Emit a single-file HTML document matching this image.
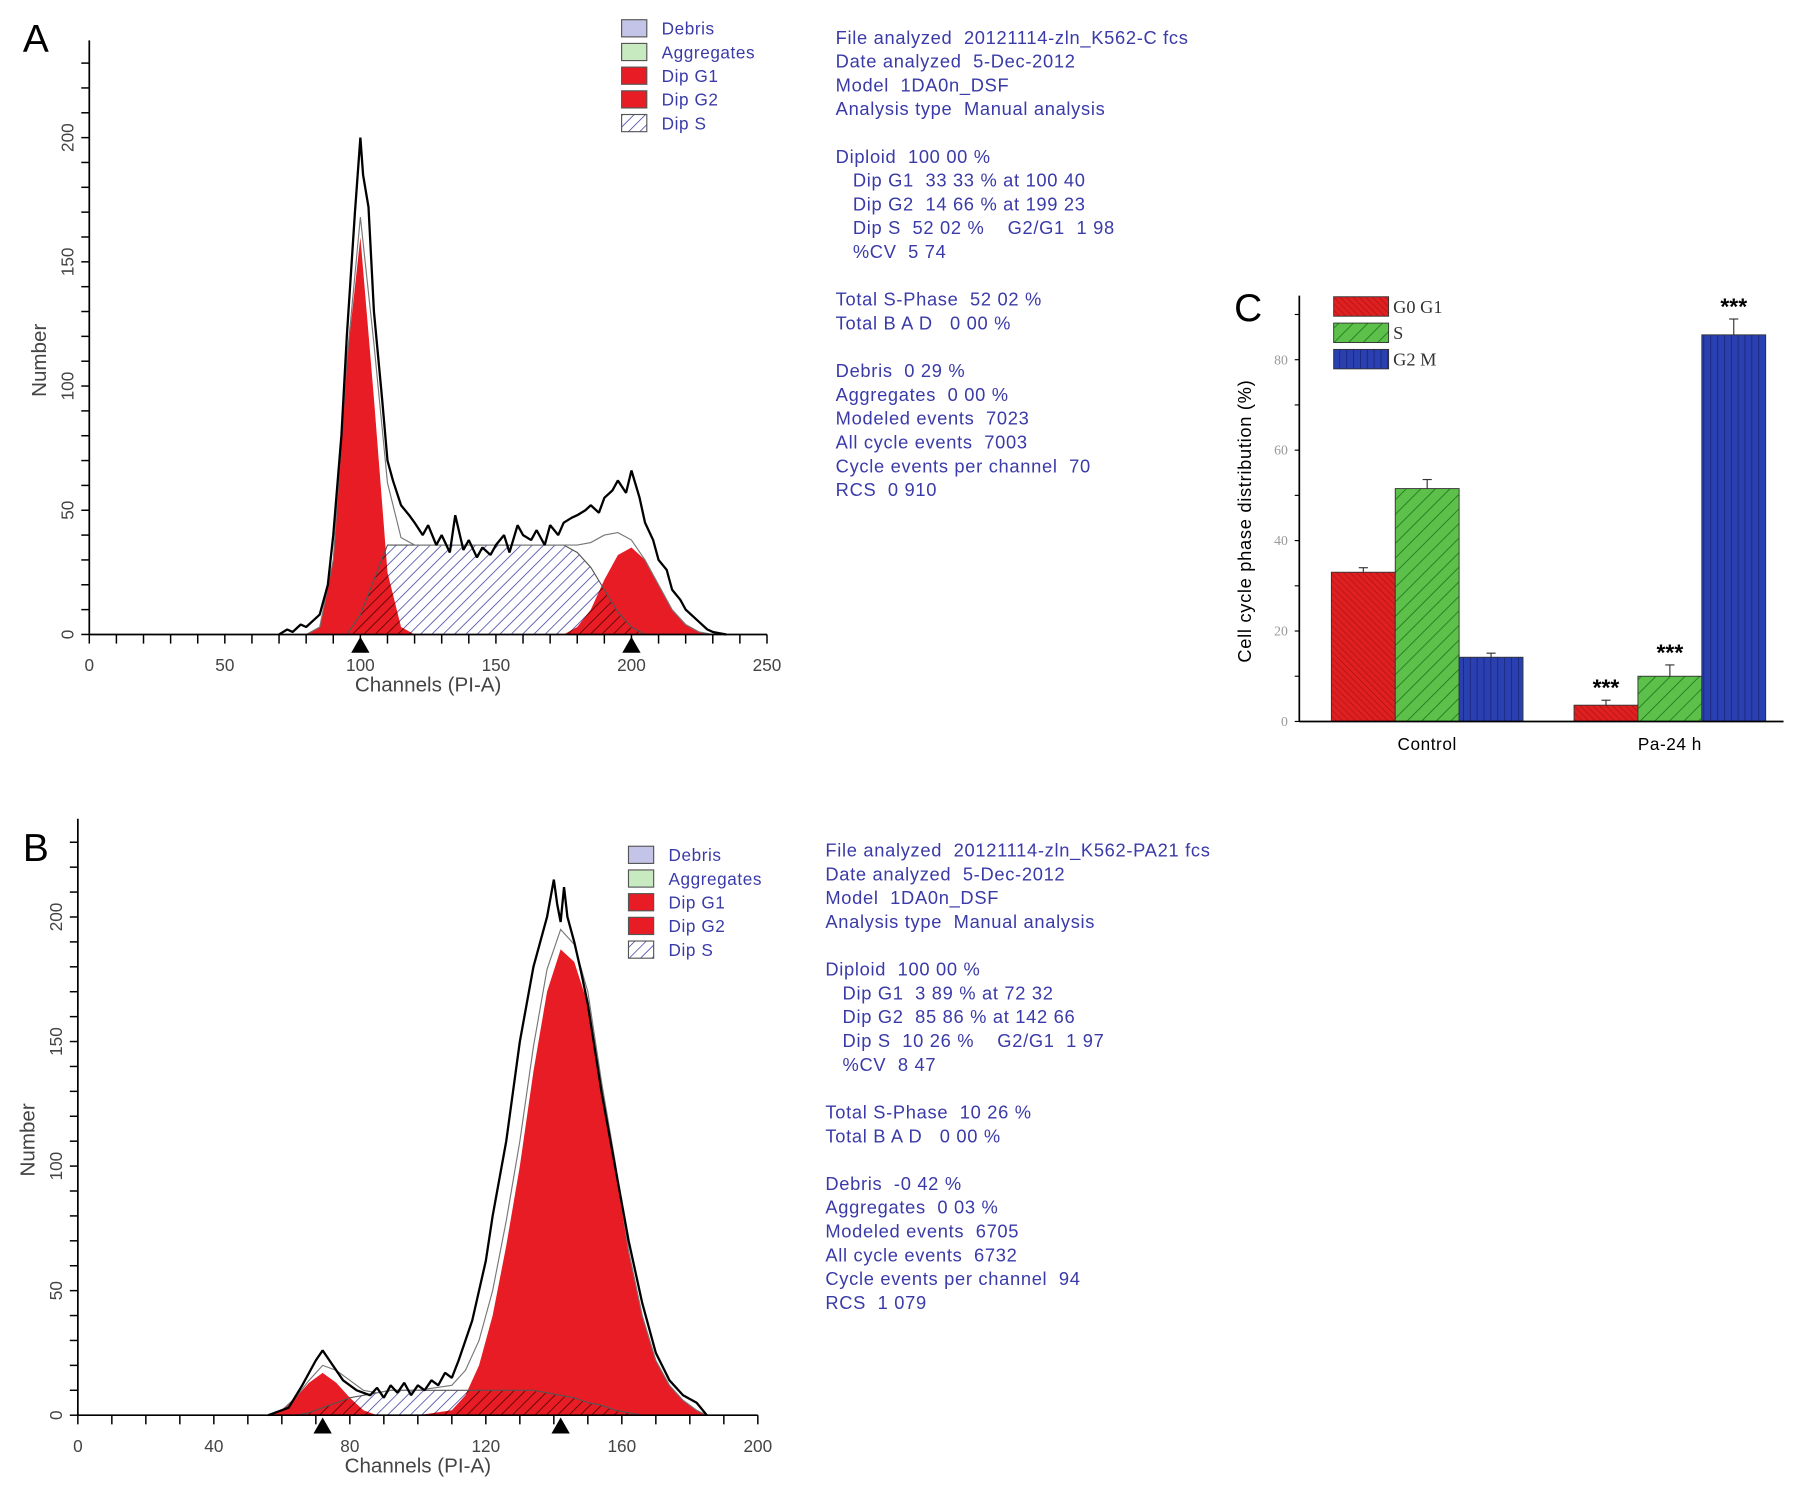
<!DOCTYPE html>
<html><head><meta charset="utf-8">
<style>
html,body{margin:0;padding:0;background:#fff;}
svg{display:block;}
.info{font-family:"Liberation Sans",sans-serif;font-size:16px;fill:#3a3aa8;white-space:pre;letter-spacing:0.6px;}
.leg{font-family:"Liberation Sans",sans-serif;font-size:15px;fill:#3a3aa8;letter-spacing:0.5px;}
.tick{font-family:"Liberation Sans",sans-serif;font-size:15px;fill:#444;}
.ttl{font-family:"Liberation Sans",sans-serif;font-size:18px;fill:#444;}
</style></head>
<body>
<svg id="fig" width="1795" height="1491" viewBox="0 0 1568 1302" xmlns="http://www.w3.org/2000/svg">
<defs>
<pattern id="hatchBlue" width="7" height="7" patternUnits="userSpaceOnUse" patternTransform="rotate(45)"><rect width="7" height="7" fill="#fff"/><line x1="0" y1="0" x2="0" y2="7" stroke="#3a3aa0" stroke-width="1.3"/></pattern>
<pattern id="hatchDark" width="7" height="7" patternUnits="userSpaceOnUse" patternTransform="rotate(45)"><line x1="0" y1="0" x2="0" y2="7" stroke="#400" stroke-width="1.3"/></pattern>
<pattern id="cRed" width="4" height="4" patternUnits="userSpaceOnUse" patternTransform="rotate(-45)"><rect width="4" height="4" fill="#e02020"/><line x1="0" y1="0" x2="0" y2="4" stroke="#a01010" stroke-width="1"/></pattern>
<pattern id="cGreen" width="9" height="9" patternUnits="userSpaceOnUse" patternTransform="rotate(45)"><rect width="9" height="9" fill="#5cc04a"/><line x1="0" y1="0" x2="0" y2="9" stroke="#1e7a1e" stroke-width="1.5"/></pattern>
<pattern id="cBlue" width="6" height="6" patternUnits="userSpaceOnUse"><rect width="6" height="6" fill="#2a40b0"/><line x1="0" y1="0" x2="0" y2="6" stroke="#142070" stroke-width="1.2"/></pattern>
</defs>
</svg>
<script>
// ---- Panel A data ----
const chanA = [70,73,75,78,80,83,85,88,90,93,95,98,100,101,103,105,108,110,112,115,118,120,123,125,128,130,133,135,138,140,143,145,148,150,153,155,158,160,163,165,168,170,173,175,178,180,183,185,188,190,193,195,198,200,203,205,208,210,213,215,218,220,223,225,228,230,235];
const rawA  = [0,2,1,4,3,6,8,20,40,80,120,170,200,185,172,130,95,70,62,52,48,45,40,44,36,40,33,48,34,38,31,35,32,36,40,33,44,40,38,42,36,44,40,45,47,48,50,52,49,55,58,62,57,66,55,45,38,30,26,18,14,10,7,5,2,1,0];
const compChanA = [80,85,90,95,100,105,110,115,120,130,140,150,160,170,175,180,185,190,195,200,205,210,215,220,225,230,235];
const g1A = [0,3,30,110,160,95,25,3,0,0,0,0,0,0,0,0,0,0,0,0,0,0,0,0,0,0,0];
const sA  = [0,0,0,0,8,22,36,36,36,36,36,36,36,36,36,33,27,18,9,3,0,0,0,0,0,0,0];
const g2A = [0,0,0,0,0,0,0,0,0,0,0,0,0,0,0,3,10,22,32,35,30,20,10,4,1,0,0];
const peaksA = [100,200];
// ---- Panel B data ----
const chanB = [56,58,62,66,70,72,75,78,82,86,88,90,92,94,96,98,100,102,104,106,108,110,112,114,116,118,120,122,124,126,128,130,132,134,136,138,140,141,142,143,144,146,148,150,154,158,162,166,170,174,178,182,185];
const rawB  = [0,1,3,12,22,26,20,14,10,8,11,7,12,9,13,8,12,10,14,12,17,15,22,30,38,50,62,80,95,110,130,150,165,180,190,200,215,205,198,212,200,190,178,165,130,100,70,45,25,14,8,5,0];
const compChanB = [56,60,64,68,72,76,80,84,88,92,100,110,114,118,122,126,130,134,138,142,146,150,154,158,162,166,170,174,178,182,185];
const g1B = [0,2,7,13,17,13,7,2,0,0,0,0,0,0,0,0,0,0,0,0,0,0,0,0,0,0,0,0,0,0,0];
const sB  = [0,0,0,1,3,5,7,8,9,10,10,10,10,10,10,10,10,10,9,8,7,5,4,2,1,0,0,0,0,0,0];
const g2B = [0,0,0,0,0,0,0,0,0,0,0,2,8,20,40,68,100,138,170,187,182,165,130,100,65,40,22,12,6,2,0];
const peaksB = [72,142];
// ---- Panel C data ----
const groupsC = ["Control","Pa-24 h"];
const seriesNamesC = ["G0 G1","S","G2 M"];
const valsG1 = [33,3.6];
const valsS  = [51.5,10];
const valsG2 = [14.2,85.5];
const errG1 = [1,1.1];
const errS  = [2,2.5];
const errG2 = [0.9,3.5];
const sigC = ["","***"];
const yTicksC = [0,20,40,60,80];

const svg = document.getElementById('fig');
const NS = 'http://www.w3.org/2000/svg';
function mk(tag, attrs, parent){
  const e = document.createElementNS(NS, tag);
  for (const k in attrs) e.setAttribute(k, attrs[k]);
  (parent||svg).appendChild(e);
  return e;
}
function txt(x,y,s,cls,extra,parent){
  const t = mk('text', Object.assign({x:x,y:y,class:cls}, extra||{}), parent);
  t.textContent = s; return t;
}
let clipN = 0;
function histPanel(cfg){
  const g = mk('g', {});
  
  
  const X = c => cfg.x0 + c*cfg.kx, Y = v => cfg.y0 - v*cfg.ky;
  function areaD(ch, vals){
    let d = 'M'+X(ch[0])+','+Y(0);
    ch.forEach((c,i)=>{ d += ' L'+X(c)+','+Y(vals[i]); });
    d += ' L'+X(ch[ch.length-1])+','+Y(0);
    return d+'Z';
  }
  function area(ch, vals, fill, name, parent){
    const p = mk('path', {d:areaD(ch,vals), fill:fill, stroke:'none'}, parent||g);
    
    
    return p;
  }
  area(cfg.cc, cfg.s, 'url(#hatchBlue)', 's-phase-area');
  area(cfg.cc, cfg.g1, '#e81c24', 'g1-peak-area');
  area(cfg.cc, cfg.g2, '#e81c24', 'g2-peak-area');
  // clip for overlap
  const cid = 'clipRed'+(clipN++);
  const cp = mk('clipPath',{id:cid},svg.querySelector('defs'));
  mk('path',{d:areaD(cfg.cc,cfg.g1)},cp);
  mk('path',{d:areaD(cfg.cc,cfg.g2)},cp);
  const ov = mk('g',{'clip-path':'url(#'+cid+')'},g);
  area(cfg.cc, cfg.s, 'url(#hatchDark)', 's-phase-overlap', ov);
  let ds=''; cfg.cc.forEach((c,i)=>{ ds += (i?' L':'M')+X(c)+','+Y(cfg.s[i]); });
  mk('path',{d:ds,fill:'none',stroke:'#555','stroke-width':1},g);
  let df=''; cfg.cc.forEach((c,i)=>{ df += (i?' L':'M')+X(c)+','+Y(cfg.g1[i]+cfg.g2[i]+cfg.s[i]); });
  const fl = mk('path',{d:df,fill:'none',stroke:'#777','stroke-width':1},g);
  
  
  let dr=''; cfg.ch.forEach((c,i)=>{ dr += (i?' L':'M')+X(c)+','+Y(cfg.raw[i]); });
  const rl = mk('path',{d:dr,fill:'none',stroke:'#000','stroke-width':2,'stroke-linejoin':'bevel'},g);
  
  
  mk('line',{x1:cfg.x0,y1:cfg.yTop,x2:cfg.x0,y2:cfg.y0,stroke:'#000','stroke-width':1.5},g);
  mk('line',{x1:cfg.x0,y1:cfg.y0,x2:X(cfg.xMax),y2:cfg.y0,stroke:'#000','stroke-width':1.5},g);
  for (let c=0;c<=cfg.xMax;c+=10){
    mk('line',{x1:X(c),y1:cfg.y0,x2:X(c),y2:cfg.y0+8,stroke:'#000','stroke-width':1.3},g);
  }
  cfg.xLabels.forEach(c=>{ txt(X(c),cfg.y0+32,String(c),'tick',{'text-anchor':'middle'},g); });
  for (let v=0; Y(v)>=cfg.yTop; v+=10){
    mk('line',{x1:cfg.x0-7,y1:Y(v),x2:cfg.x0,y2:Y(v),stroke:'#000','stroke-width':1.3},g);
  }
  [0,50,100,150,200].forEach(v=>{
    txt(cfg.x0-14,Y(v),String(v),'tick',{'text-anchor':'middle',transform:'rotate(-90 '+(cfg.x0-14)+' '+Y(v)+')'},g);
  });
  cfg.peaks.forEach(c=>{
    const m = mk('path',{d:'M'+X(c)+','+(cfg.y0+2)+' L'+(X(c)-8)+','+(cfg.y0+16)+' L'+(X(c)+8)+','+(cfg.y0+16)+'Z',fill:'#000'},g);
    
    
  });
  const xt = txt((cfg.x0+X(cfg.xMax))/2, cfg.y0+50, 'Channels (PI-A)', 'ttl', {'text-anchor':'middle'}, g);
  
  
  const yt = txt(cfg.x0-38, (cfg.y0+cfg.yTop)/2+20, 'Number', 'ttl', {'text-anchor':'middle',transform:'rotate(-90 '+(cfg.x0-38)+' '+((cfg.y0+cfg.yTop)/2+20)+')'}, g);
  
  
  const pl = txt(20, cfg.labelY, cfg.label, 'ttl', {style:'font-size:34px;fill:#000'}, g);
  
  
  const lg = mk('g',{},g);
  
  
  const names=['Debris','Aggregates','Dip G1','Dip G2','Dip S'];
  const fills=['#c4c4e8','#c8eac0','#e81c24','#e81c24','url(#hatchBlue)'];
  names.forEach((n,i)=>{
    const y = cfg.legY + i*20.7;
    const r = mk('rect',{x:cfg.legX,y:y,width:22,height:15,fill:fills[i],stroke:'#555','stroke-width':1},lg);
    
    
    const t = txt(cfg.legX+35,y+13,n,'leg',{},lg);
    
    
  });
  const ig = mk('g',{},g);
  
  
  cfg.info.forEach((s,i)=>{
    if(!s) return;
    const ind = s.startsWith('  ');
    txt(cfg.infoX + (ind?15:0), cfg.infoY + i*20.8, s.trim(), 'info', {}, ig);
  });
}

histPanel({name:'panel-a-histogram',label:'A',labelY:45,x0:78,y0:554,kx:2.368,ky:2.17,yTop:35,xMax:250,
  xLabels:[0,50,100,150,200,250],ch:chanA,raw:rawA,cc:compChanA,g1:g1A,s:sA,g2:g2A,peaks:peaksA,
  legX:543,legY:17,infoX:730,infoY:38,
  info:['File analyzed  20121114-zln_K562-C fcs','Date analyzed  5-Dec-2012','Model  1DA0n_DSF','Analysis type  Manual analysis','',
  'Diploid  100 00 %','  Dip G1  33 33 % at 100 40','  Dip G2  14 66 % at 199 23','  Dip S  52 02 %    G2/G1  1 98','  %CV  5 74','',
  'Total S-Phase  52 02 %','Total B A D   0 00 %','','Debris  0 29 %','Aggregates  0 00 %','Modeled events  7023','All cycle events  7003','Cycle events per channel  70','RCS  0 910']});

histPanel({name:'panel-b-histogram',label:'B',labelY:752,x0:68,y0:1236,kx:2.97,ky:2.176,yTop:715,xMax:200,
  xLabels:[0,40,80,120,160,200],ch:chanB,raw:rawB,cc:compChanB,g1:g1B,s:sB,g2:g2B,peaks:peaksB,
  legX:549,legY:739,infoX:721,infoY:748,
  info:['File analyzed  20121114-zln_K562-PA21 fcs','Date analyzed  5-Dec-2012','Model  1DA0n_DSF','Analysis type  Manual analysis','',
  'Diploid  100 00 %','  Dip G1  3 89 % at 72 32','  Dip G2  85 86 % at 142 66','  Dip S  10 26 %    G2/G1  1 97','  %CV  8 47','',
  'Total S-Phase  10 26 %','Total B A D   0 00 %','','Debris  -0 42 %','Aggregates  0 03 %','Modeled events  6705','All cycle events  6732','Cycle events per channel  94','RCS  1 079']});

(function(){
  const g = mk('g',{});
  
  
  const x0=1135, x1=1558, y0=630, yTop=258;
  const Y = v => y0 - v*3.95;
  const groupX = [1163, 1375]; const bw = 55.8;
  const series=[valsG1,valsS,valsG2], errs=[errG1,errS,errG2], fills=['url(#cRed)','url(#cGreen)','url(#cBlue)'];
  const barNames=['bar-g0g1','bar-s','bar-g2m'];
  groupsC.forEach((gname,gi)=>{
    series.forEach((vals,si)=>{
      const bx = groupX[gi] + si*bw;
      const r = mk('rect',{x:bx,y:Y(vals[gi]),width:bw,height:Y(0)-Y(vals[gi]),fill:fills[si],stroke:'#333','stroke-width':0.8},g);
      
      
      const cx = bx+bw/2, top = Y(vals[gi]+errs[si][gi]);
      mk('line',{x1:cx,y1:Y(vals[gi]),x2:cx,y2:top,stroke:'#333','stroke-width':1},g);
      mk('line',{x1:cx-4,y1:top,x2:cx+4,y2:top,stroke:'#333','stroke-width':1},g);
      if (sigC[gi]) {
        const s = txt(cx, top-4, sigC[gi], 'ttl', {'text-anchor':'middle',style:'font-size:20px;font-weight:bold;fill:#000'}, g);
        
        
      }
    });
    const gl = txt(groupX[gi]+bw*1.5, y0+25, gname, 'ttl', {'text-anchor':'middle',style:'font-size:15px;fill:#000;letter-spacing:0.5px'}, g);
    
    
  });
  mk('line',{x1:x0,y1:yTop,x2:x0,y2:y0,stroke:'#000','stroke-width':1.5},g);
  mk('line',{x1:x0,y1:y0,x2:x1,y2:y0,stroke:'#000','stroke-width':1.5},g);
  for (let v=0; v<=90; v+=10) mk('line',{x1:x0-4,y1:Y(v),x2:x0,y2:Y(v),stroke:'#000','stroke-width':1},g);
  yTicksC.forEach(v=>{ txt(x0-10,Y(v)+4,String(v),'tick',{'text-anchor':'end',style:'font-size:12px;fill:#999;font-family:"Liberation Serif",serif'},g); });
  const yt = txt(1093, 455, 'Cell cycle phase distribution (%)', 'ttl', {'text-anchor':'middle',style:'font-size:16px;fill:#000;letter-spacing:0.6px',transform:'rotate(-90 1093 455)'}, g);
  
  
  const pl = txt(1078, 280, 'C', 'ttl', {style:'font-size:34px;fill:#000'}, g);
  
  
  seriesNamesC.forEach((n,i)=>{
    const y = 259 + i*23;
    const r = mk('rect',{x:1165,y:y,width:48,height:17,fill:fills[i],stroke:'#333','stroke-width':0.8},g);
    
    
    const t = txt(1217,y+14,n,'ttl',{style:'font-size:16px;fill:#333;font-family:"Liberation Serif",serif'},g);
    
    
  });
})();
</script>
</body></html>
